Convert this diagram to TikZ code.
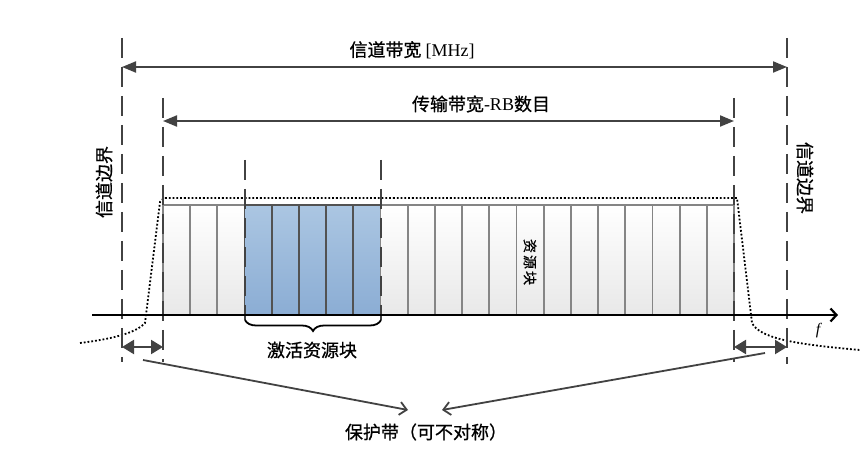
\documentclass[tikz,border=0pt]{standalone}
\usepackage{fontspec}
\setmainfont{Liberation Serif}
\newfontfamily\cjk[FakeBold=0.8]{Noto Sans CJK SC}
\usetikzlibrary{arrows.meta,decorations.pathreplacing}
\definecolor{rbtop}{RGB}{171,198,226}
\definecolor{rbbot}{RGB}{139,173,212}
\definecolor{edge}{RGB}{66,66,66}

\begin{document}
\begin{tikzpicture}[
  x=1pt,y=-1pt,
  font=\cjk\fontsize{18}{21}\selectfont,
  rb/.style={draw=black!48,line width=1.8pt,top color=white,bottom color=black!9,
             minimum width=27.19pt,minimum height=110pt,inner sep=0pt},
  rbact/.style={rb,draw=black!68,top color=rbtop,bottom color=rbbot},
  bound/.style={draw=edge,line width=2.8pt,dash pattern=on 20pt off 9pt},
  dim/.style={{Triangle[length=14pt,width=11pt]}-{Triangle[length=14pt,width=11pt]},
              draw=edge,line width=2pt},
  guard/.style={{Triangle[length=12pt,width=14pt]}-{Triangle[length=12pt,width=14pt]},
                draw=edge,line width=2.2pt},
  lead/.style={-{Straight Barb[length=7pt,width=13pt]},draw=edge,line width=1.8pt},
  axis/.style={-{Straight Barb[length=6pt,width=13pt]},line width=2.2pt},
  mask/.style={line width=1.8pt,dotted},
  brace/.style={decorate,decoration={brace,mirror,amplitude=11pt},line width=1.8pt}
]
\useasboundingbox (0,0) rectangle (865,454);

% spectrum mask
\draw[mask] (80,343) .. controls (112,339) and (136,333) .. (145,323) -- (160,202)
  -- (164,198) -- (737,198) -- (752,323) .. controls (760,338) and (792,344) .. (860,350);

% resource blocks, 3..7 active
\foreach \i in {0,...,20}{
  \pgfmathsetmacro\xc{163+27.19*(\i+.5)}
  \ifnum\i>2 \ifnum\i<8 \def\rbsty{rbact}\else\def\rbsty{rb}\fi\else\def\rbsty{rb}\fi
  \node[\rbsty] (rb\i) at (\xc,260) {};
}
\node[rotate=-90,font=\cjk\fontsize{14}{16}\selectfont] (rblab) at (530,262)
  {资\hspace{2pt}源\hspace{2pt}块};

\coordinate (chLt) at (122,38);  \coordinate (chLb) at (122,362);
\coordinate (chRt) at (787,38);  \coordinate (chRb) at (787,364);
\coordinate (txLt) at (163,98);  \coordinate (txLb) at (163,362);
\coordinate (txRt) at (734,98);  \coordinate (txRb) at (734,362);
\coordinate (actLt) at (245,160); \coordinate (actLb) at (245,320);
\coordinate (actRt) at (381,160); \coordinate (actRb) at (381,320);
\draw[bound] (chLt) -- (chLb);
\draw[bound] (chRt) -- (chRb);
\draw[bound] (txLt) -- (txLb);
\draw[bound] (txRt) -- (txRb);
\draw[bound] (actLt) -- (actLb);
\draw[bound] (actRt) -- (actRb);

\coordinate (ax0) at (92,315); \coordinate (ax1) at (838,315);
\draw[axis] (ax0) -- (ax1);
\node[font=\rmfamily\itshape\fontsize{16}{18}\selectfont] (flab) at (818,331) {f};

\coordinate (bwL) at (122,67);  \coordinate (bwR) at (787,67);
\draw[dim] (bwL) -- (bwR);
\node (bwlab) at (412,50) {信道带宽 {\rmfamily [MHz]}};
\coordinate (txL) at (163,121); \coordinate (txR) at (734,121);
\draw[dim] (txL) -- (txR);
\node (txlab) at (481,104) {传输带宽{\rmfamily -RB}数目};

\node[rotate=90] (bdL) at (104,182) {信道边界};
\node[rotate=-90] (bdR) at (805,178) {信道边界};

\draw[brace] (actLb) -- (actRb);
\node (actlab) at (312,350) {激活资源块};

% guard bands
\coordinate (gLa) at (122,347); \coordinate (gLb) at (163,347);
\coordinate (gRa) at (734,347); \coordinate (gRb) at (787,347);
\draw[guard] (gLa) -- (gLb);
\draw[guard] (gRa) -- (gRb);
\coordinate (gdL) at (143,360); \coordinate (gdR) at (765,353);
\coordinate (gdinL) at (408,410); \coordinate (gdinR) at (442,410);
\draw[lead] (gdL) -- (gdinL);
\draw[lead] (gdR) -- (gdinR);
\node (gdlab) at (426,432) {保护带（可不对称）};
\end{tikzpicture}
\end{document}
